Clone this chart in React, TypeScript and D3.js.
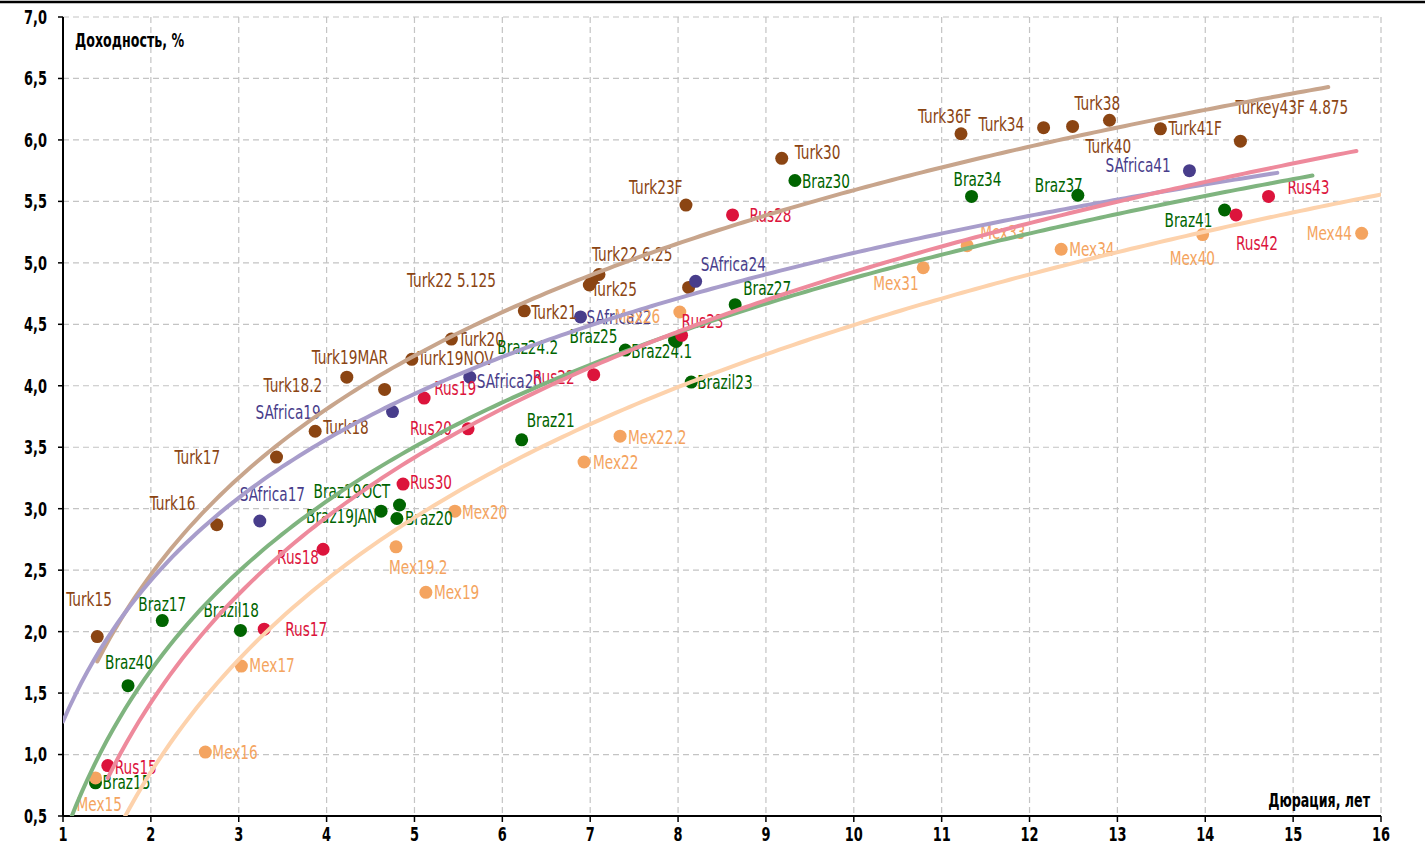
import React from "react";
import * as d3 from "d3";

// ---------- DATA ----------
const turkNames = ["Turk15","Turk16","Turk17","Turk18","Turk18.2","Turk19MAR","Turk19NOV","Turk20","Turk21","Turk22 5.125","Turk25","Turk22 6.25","Turk23F","Turk24","Turk30","Turk36F","Turk34","Turk40","Turk38","Turk41F","Turkey43F 4.875"];
const turkDur = [1.39,2.75,3.43,3.87,4.66,4.23,4.97,5.42,6.25,7.02,6.99,7.10,8.09,8.12,9.18,11.22,12.16,12.49,12.91,13.49,14.40];
const turkYld = [1.96,2.87,3.42,3.63,3.97,4.07,4.215,4.38,4.61,4.86,4.82,4.905,5.47,4.80,5.85,6.05,6.10,6.11,6.16,6.09,5.99];

const safNames = ["SAfrica17","SAfrica19","SAfrica20","SAfrica22","SAfrica24","SAfrica41"];
const safDur = [3.24,4.75,5.63,6.89,8.20,13.82];
const safYld = [2.90,3.79,4.07,4.56,4.85,5.75];

const brazNames = ["Braz15","Braz40","Braz17","Brazil18","Braz19JAN","Braz19OCT","Braz20","Braz21","Braz24.1","Braz24.2","Braz25","Brazil23","Braz27","Braz30","Braz34","Braz37","Braz41"];
const brazDur = [1.37,1.74,2.13,3.02,4.62,4.83,4.80,6.22,7.40,7.98,7.96,8.15,8.65,9.33,11.34,12.55,14.22];
const brazYld = [0.77,1.56,2.09,2.01,2.98,3.03,2.92,3.56,4.29,4.36,4.37,4.03,4.66,5.67,5.54,5.55,5.43];

const rusNames = ["Rus15","Rus17","Rus18","Rus30","Rus19","Rus20","Rus22","Rus23","Rus28","Rus42","Rus43"];
const rusDur = [1.51,3.29,3.96,4.87,5.11,5.61,7.04,8.04,8.62,14.35,14.72];
const rusYld = [0.91,2.02,2.67,3.20,3.90,3.65,4.09,4.41,5.39,5.39,5.54];

const mexNames = ["Mex15","Mex16","Mex17","Mex19.2","Mex19","Mex20","Mex22","Mex22.2","Mex26","Mex31","Mex33","Mex34","Mex40","Mex44"];
const mexDur = [1.37,2.62,3.03,4.79,5.13,5.46,6.93,7.34,8.02,10.79,11.29,12.36,13.97,15.78];
const mexYld = [0.81,1.02,1.72,2.69,2.32,2.98,3.38,3.59,4.60,4.96,5.14,5.11,5.23,5.24];

// logarithmic trendlines y = a*ln(x) + b (order: Turkey, SAfrica, Brazil, Russia, Mexico)
const trendA = [1.943, 1.655, 1.983, 2.177, 2.26];
const trendB = [1.117, 1.27, 0.311, -0.087, -0.71];
const trendFrom = [1.39, 1.0, 1.0, 1.51, 1.37];
const trendTo = [15.4, 14.82, 15.22, 15.72, 16.78];

const yTicks = [0.5,1,1.5,2,2.5,3,3.5,4,4.5,5,5.5,6,6.5,7];
const xTicks = [1,2,3,4,5,6,7,8,9,10,11,12,13,14,15,16];

// ---------- STYLE / LAYOUT ----------
const W = 1425, H = 852;
const M = { left: 63, right: 1381, top: 17, bottom: 816 };
const dotColors = ["#8B4513", "#483D8B", "#006400", "#DC143C", "#F4A460"];
const lineColors = ["#C8A58C", "#A89DCB", "#7FB47F", "#EE8A9C", "#FDD2AC"];

// label offsets (px, relative to dot centre; x = left edge of text, y = text centre)
const labelOffset: Record<string, [number, number]> = {
  "Turk15": [-31, -37], "Turk16": [-67, -21], "Turk17": [-102, 0], "Turk18": [8, -4],
  "Turk18.2": [-121, -4], "Turk19MAR": [-35, -20], "Turk19NOV": [6, -1], "Turk20": [7, 0],
  "Turk21": [7, 2], "Turk22 5.125": [-185, 0], "Turk25": [2, 4], "Turk22 6.25": [-7, -20],
  "Turk23F": [-57, -18], "Turk30": [13, -6], "Turk36F": [-43, -17], "Turk34": [-65, -3],
  "Turk40": [13, 20], "Turk38": [-35, -17], "Turk41F": [8, 0], "Turkey43F 4.875": [-5, -34],
  "SAfrica17": [-20, -27], "SAfrica19": [-137, 1], "SAfrica20": [7, 4], "SAfrica22": [6, 0],
  "SAfrica24": [5, -17], "SAfrica41": [-84, -5],
  "Braz15": [7, 0], "Braz40": [-23, -23], "Braz17": [-24, -16], "Brazil18": [-37, -20],
  "Braz19JAN": [-75, 5], "Braz19OCT": [-86, -14], "Braz20": [8, 0], "Braz21": [5, -19],
  "Braz24.1": [6, 1], "Braz24.2": [-179, 6], "Braz25": [-105, -4], "Brazil23": [6, 0],
  "Braz27": [8, -16], "Braz30": [7, 1], "Braz34": [-18, -17], "Braz37": [-43, -10], "Braz41": [-60, 10],
  "Rus15": [7, 2], "Rus17": [21, 0], "Rus18": [-46, 8], "Rus30": [7, -2], "Rus19": [10, -10],
  "Rus20": [-58, 0], "Rus22": [-61, 3], "Rus23": [0, -14], "Rus28": [17, 0], "Rus42": [0, 28], "Rus43": [19, -9],
  "Mex15": [-19, 26], "Mex16": [7, 0], "Mex17": [8, -1], "Mex19.2": [-7, 21], "Mex19": [8, 0],
  "Mex20": [7, 1], "Mex22": [9, 0], "Mex22.2": [8, 1], "Mex26": [-65, 4], "Mex31": [-50, 16],
  "Mex33": [13, -13], "Mex34": [8, 0], "Mex40": [-33, 24], "Mex44": [-55, 0],
};
const hiddenLabels = new Set(["Turk24"]);

const FONT = "'DejaVu Sans Condensed', 'DejaVu Sans', sans-serif";

function NText(props: { x: number; y: number; sx: number; size: number; fill: string; bold?: boolean; anchor?: string; children: React.ReactNode }) {
  const { x, y, sx, size, fill, bold, anchor, children } = props;
  return (
    <text transform={`translate(${x},${y}) scale(${sx},1)`} textAnchor={anchor || "start"} dominantBaseline="central"
      fontFamily={FONT} fontStretch="condensed" fontSize={size} fontWeight={bold ? "bold" : "normal"} fill={fill}>
      {children}
    </text>
  );
}

export default function App() {
  const x = d3.scaleLinear().domain([1, 16]).range([M.left, M.right]);
  const y = d3.scaleLinear().domain([0.5, 7]).range([M.bottom, M.top]);

  const groups = [
    { names: turkNames, xs: turkDur, ys: turkYld },
    { names: safNames, xs: safDur, ys: safYld },
    { names: brazNames, xs: brazDur, ys: brazYld },
    { names: rusNames, xs: rusDur, ys: rusYld },
    { names: mexNames, xs: mexDur, ys: mexYld },
  ];

  const line = d3.line<[number, number]>().x((d) => x(d[0])).y((d) => y(d[1]));
  const trendPaths = trendA.map((a, i) => {
    const pts: [number, number][] = [];
    const n = 200;
    for (let k = 0; k <= n; k++) {
      const xv = trendFrom[i] + ((trendTo[i] - trendFrom[i]) * k) / n;
      pts.push([xv, a * Math.log(xv) + trendB[i]]);
    }
    return line(pts) || "";
  });

  return (
    <div style={{ position: "fixed", left: 0, top: 0 }}>
      <svg width={W} height={H} style={{ display: "block", background: "#fff" }}>
        <defs>
          <clipPath id="plot">
            <rect x={M.left} y={M.top} width={M.right - M.left} height={M.bottom - M.top} />
          </clipPath>
        </defs>
        <line x1={0} x2={W} y1={2} y2={2} stroke="#000" strokeWidth={2.5} />
        {/* grid */}
        {yTicks.map((t) => (
          <line key={"gy" + t} x1={M.left} x2={M.right} y1={y(t)} y2={y(t)} stroke="#C4C4C4" strokeWidth={1.2} strokeDasharray="6,4" />
        ))}
        {xTicks.map((t) => (
          <line key={"gx" + t} x1={x(t)} x2={x(t)} y1={M.top} y2={M.bottom} stroke="#C4C4C4" strokeWidth={1.2} strokeDasharray="6,4" />
        ))}
        {/* axes */}
        <line x1={M.left} x2={M.left} y1={M.top} y2={M.bottom} stroke="#000" strokeWidth={2} />
        <line x1={M.left} x2={M.right} y1={M.bottom} y2={M.bottom} stroke="#000" strokeWidth={2} />
        {yTicks.map((t) => (
          <g key={"ty" + t}>
            <line x1={M.left - 5} x2={M.left} y1={y(t)} y2={y(t)} stroke="#000" strokeWidth={1.5} />
            <NText x={M.left - 16} y={y(t)} sx={0.72} size={20} fill="#000" bold anchor="end">
              {d3.format(".1f")(t).replace(".", ",")}
            </NText>
          </g>
        ))}
        {xTicks.map((t) => (
          <g key={"tx" + t}>
            <line x1={x(t)} x2={x(t)} y1={M.bottom} y2={M.bottom + 6} stroke="#000" strokeWidth={1.5} />
            <NText x={x(t)} y={M.bottom + 18} sx={0.72} size={20} fill="#000" bold anchor="middle">{t}</NText>
          </g>
        ))}
        <NText x={75} y={40} sx={0.74} size={19} fill="#000" bold>Доходность, %</NText>
        <NText x={1370} y={800} sx={0.74} size={19} fill="#000" bold anchor="end">Дюрация,  лет</NText>

        {/* dots */}
        {groups.map((g, gi) =>
          g.xs.map((xv, i) => (
            <circle key={"d" + gi + "-" + i} cx={x(xv)} cy={y(g.ys[i])} r={6.5} fill={dotColors[gi]} />
          ))
        )}
        {/* labels */}
        {groups.map((g, gi) =>
          g.names.map((nm, i) => {
            if (hiddenLabels.has(nm)) return null;
            const off = labelOffset[nm] || [8, 0];
            return (
              <NText key={"l" + gi + "-" + i} x={x(g.xs[i]) + off[0]} y={y(g.ys[i]) + off[1]} sx={0.8} size={19} fill={dotColors[gi]}>
                {nm}
              </NText>
            );
          })
        )}
        {/* trendlines */}
        <g clipPath="url(#plot)">
          {trendPaths.map((p, i) => (
            <path key={"tr" + i} d={p} fill="none" stroke={lineColors[i]} strokeWidth={4} strokeLinecap="round" />
          ))}
        </g>
      </svg>
    </div>
  );
}
